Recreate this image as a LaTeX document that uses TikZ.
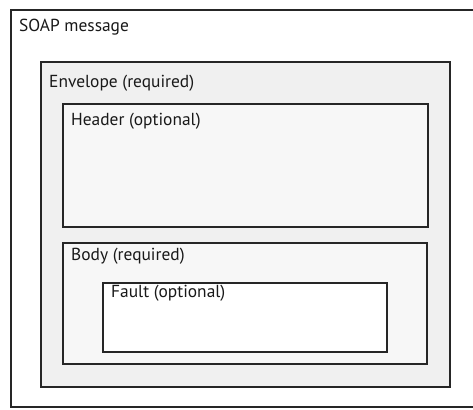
\documentclass[tikz,border=0pt]{standalone}
\usepackage{fontspec}
\setmainfont{PT Sans}
\begin{document}
\begin{tikzpicture}[x=1pt,y=-1pt,
  frame/.style={draw=black!85, line width=2.4pt, inner sep=0pt, outer sep=0pt},
  lbl/.style={anchor=north west, inner sep=0pt, font=\fontsize{17.4}{20}\selectfont, text=black!90}]
\useasboundingbox (0,0) rectangle (473,409);
\fill[white] (0,0) rectangle (473,409);
\draw[frame, fill=white] (11,10) rectangle (478,407);
\node[lbl] (soap) at (19,19) {SOAP message};
\draw[frame, fill=black!6] (41,62) rectangle (450,387);
\node[lbl] (env) at (49,75) {Envelope (required)};
\draw[frame, fill=black!3] (63,104) rectangle (428,227);
\node[lbl] (hdr) at (71,113) {Header (optional)};
\draw[frame, fill=black!3] (63,243) rectangle (427,364);
\node[lbl] (body) at (71,248) {Body (required)};
\draw[frame, fill=white] (103,283) rectangle (387,352);
\node[lbl] (fault) at (111,285) {Fault (optional)};
\end{tikzpicture}
\end{document}
